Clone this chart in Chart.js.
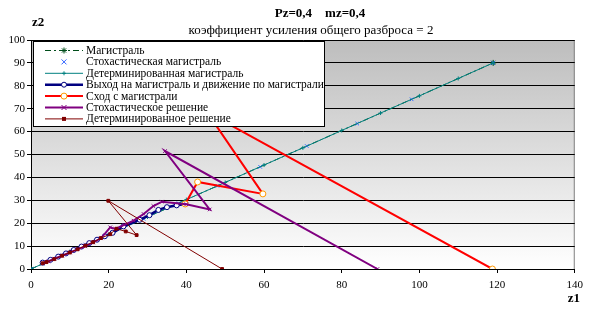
<!DOCTYPE html>
<html>
<head>
<meta charset="utf-8">
<script src="https://cdn.jsdelivr.net/npm/chart.js@4.4.0/dist/chart.umd.min.js"></script>
<style>
html, body { margin: 0; padding: 0; background: #fff; }
</style>
</head>
<body>
<canvas id="trajChart" width="589" height="312"></canvas>
<script>
// series names (legend order)
const seriesNames = [
    'Магистраль',
    'Стохастическая магистраль',
    'Детерминированная магистраль',
    'Выход на магистраль и движение по магистрали',
    'Сход с магистрали',
    'Стохастическое решение',
    'Детерминированное решение'
];

// z1 / z2 values
const magistralX = [0, 119];
const magistralY = [0, 90];
const stochMagX = [0, 3, 8, 14, 21, 29, 38, 48, 59, 71, 84, 98, 119];
const stochMagY = [0, 2.3, 6, 10.6, 15.9, 21.9, 28.7, 36.3, 44.6, 53.7, 63.5, 74.1, 90];
const detMagX = [0, 10, 20, 30, 40, 50, 60, 70, 80, 90, 100, 110, 119];
const detMagY = [0, 7.6, 15.1, 22.7, 30.3, 37.8, 45.4, 52.9, 60.5, 68.1, 75.6, 83.2, 90];
const exitX = [3, 5, 7, 9, 11, 13, 15, 17, 19, 21, 23.8, 28, 30.5, 32.8, 35, 37.5, 39.7];
const exitY = [2.8, 4, 5.4, 6.8, 8.3, 9.8, 11.3, 12.8, 14.3, 15.8, 18.6, 21.5, 23.5, 25.8, 27, 27.8, 28.4];
const leaveX = [39.7, 42.9, 59.7, 45.3, 118.8];
const leaveY = [28.4, 38, 32.8, 68.5, 0];
const stochSolX = [3, 4.5, 6, 8, 10, 12, 14, 16, 18, 20.4, 21.7, 24, 26.4, 29, 31.5, 33.7, 40, 46, 34.5, 89.2];
const stochSolY = [2.5, 3.3, 4.5, 5.8, 7.2, 8.6, 10, 11.6, 13.4, 18.2, 17.5, 19.3, 21.1, 24, 27.5, 29.4, 28.3, 26, 51.5, 0];
const detSolX = [3, 4, 6, 8, 10, 12, 14, 16, 18, 20.4, 22, 24.4, 27.2, 19.9, 49.2];
const detSolY = [2.5, 3, 4.3, 5.8, 7.2, 8.6, 10.2, 11.7, 13.5, 15.2, 17.6, 16.4, 14.8, 29.8, 0];

const xTicks = [0, 20, 40, 60, 80, 100, 120, 140];
const yTicks = [0, 10, 20, 30, 40, 50, 60, 70, 80, 90, 100];

const FONT = "'Liberation Serif', 'Times New Roman', serif";

function pts(xs, ys) {
    return xs.map((x, i) => ({ x: x, y: ys[i] }));
}

const styles = [
    { color: '#004d1a', width: 1, dash: [6, 3, 2, 3], point: 'star', radius: 3, fill: '#004d1a', line: true },
    { color: '#3366ff', width: 1, dash: [], point: 'crossRot', radius: 2.5, fill: '#3366ff', line: false },
    { color: '#008080', width: 1, dash: [], point: 'cross', radius: 2, fill: '#008080', line: true },
    { color: '#000080', width: 2.5, dash: [], point: 'circle', radius: 2.5, fill: '#ffffff', line: true, pointColor: '#000080' },
    { color: '#ff0000', width: 2, dash: [], point: 'circle', radius: 3, fill: '#ffffff', line: true, pointColor: '#ff9900' },
    { color: '#800080', width: 2, dash: [], point: 'crossRot', radius: 2.5, fill: '#800080', line: true },
    { color: '#800000', width: 1, dash: [], point: 'rect', radius: 2, fill: '#800000', line: true }
];

const seriesData = [
    pts(magistralX, magistralY),
    pts(stochMagX, stochMagY),
    pts(detMagX, detMagY),
    pts(exitX, exitY),
    pts(leaveX, leaveY),
    pts(stochSolX, stochSolY),
    pts(detSolX, detSolY)
];

const datasets = seriesNames.map((name, i) => {
    const s = styles[i];
    return {
        label: name,
        data: seriesData[i],
        showLine: s.line,
        borderColor: s.color,
        borderWidth: s.width,
        borderDash: s.dash,
        pointStyle: s.point,
        pointRadius: s.radius,
        pointBorderColor: s.pointColor || s.color,
        pointBackgroundColor: s.fill,
        pointBorderWidth: 1,
        tension: 0,
        order: 7 - i // later series on top, like the original
    };
});

// gray-to-white plot background + frame
const plotBackground = {
    id: 'plotBackground',
    beforeDraw(chart) {
        const { ctx, chartArea: a } = chart;
        const g = ctx.createLinearGradient(0, a.top, 0, a.bottom);
        g.addColorStop(0, '#bdbdbd');
        g.addColorStop(1, '#ffffff');
        ctx.save();
        ctx.fillStyle = g;
        ctx.fillRect(a.left, a.top, a.right - a.left, a.bottom - a.top);
        ctx.strokeStyle = '#808080';
        ctx.lineWidth = 1;
        ctx.strokeRect(a.left + 0.5, a.top + 0.5, a.right - a.left - 1, a.bottom - a.top);
        ctx.restore();
    }
};

function drawMarker(ctx, style, x, y, r) {
    ctx.beginPath();
    if (style === 'circle') {
        ctx.arc(x, y, r, 0, Math.PI * 2);
        ctx.fill();
        ctx.stroke();
    } else if (style === 'rect') {
        ctx.fillRect(x - r, y - r, 2 * r, 2 * r);
    } else if (style === 'cross') {
        ctx.moveTo(x - r, y); ctx.lineTo(x + r, y);
        ctx.moveTo(x, y - r); ctx.lineTo(x, y + r);
        ctx.stroke();
    } else if (style === 'crossRot') {
        ctx.moveTo(x - r, y - r); ctx.lineTo(x + r, y + r);
        ctx.moveTo(x + r, y - r); ctx.lineTo(x - r, y + r);
        ctx.stroke();
    } else if (style === 'star') {
        ctx.moveTo(x - r, y); ctx.lineTo(x + r, y);
        ctx.moveTo(x, y - r); ctx.lineTo(x, y + r);
        ctx.moveTo(x - r * 0.7, y - r * 0.7); ctx.lineTo(x + r * 0.7, y + r * 0.7);
        ctx.moveTo(x + r * 0.7, y - r * 0.7); ctx.lineTo(x - r * 0.7, y + r * 0.7);
        ctx.stroke();
    }
}

// legend box inside the plot, titles and axis names
const overlay = {
    id: 'overlay',
    afterDraw(chart) {
        const { ctx, chartArea: a } = chart;
        ctx.save();

        // legend
        const bx = a.left + 2, by = a.top + 1, bw = 291, bh = 85;
        ctx.fillStyle = '#ffffff';
        ctx.fillRect(bx, by, bw, bh);
        ctx.strokeStyle = '#000000';
        ctx.lineWidth = 1;
        ctx.strokeRect(bx + 0.5, by + 0.5, bw, bh);
        ctx.font = '11.5px ' + FONT;
        ctx.textBaseline = 'middle';
        ctx.textAlign = 'left';
        chart.data.datasets.forEach((ds, i) => {
            const s = styles[i];
            const y = by + 9.5 + i * 11.4;
            if (s.line) {
                ctx.strokeStyle = s.color;
                ctx.lineWidth = s.width;
                ctx.setLineDash(s.dash);
                ctx.beginPath();
                ctx.moveTo(bx + 12, y);
                ctx.lineTo(bx + 50, y);
                ctx.stroke();
                ctx.setLineDash([]);
            }
            ctx.strokeStyle = s.pointColor || s.color;
            ctx.fillStyle = s.fill;
            ctx.lineWidth = 1;
            drawMarker(ctx, s.point, bx + 31, y, s.radius);
            ctx.fillStyle = '#000000';
            ctx.fillText(ds.label, bx + 53, y + 0.5);
        });

        // titles
        ctx.textAlign = 'center';
        ctx.fillStyle = '#000000';
        ctx.font = 'bold 13px ' + FONT;
        ctx.fillText('Pz=0,4    mz=0,4', 320, 14);
        ctx.font = '13px ' + FONT;
        ctx.fillText('коэффициент усиления общего разброса = 2', 311, 31);

        // axis names
        ctx.font = 'bold 13px ' + FONT;
        ctx.textAlign = 'left';
        ctx.fillText('z2', 32, 23);
        ctx.textAlign = 'right';
        ctx.fillText('z1', 580, 299);
        ctx.restore();
    }
};

new Chart(document.getElementById('trajChart'), {
    type: 'scatter',
    data: { datasets: datasets },
    options: {
        responsive: false,
        animation: false,
        layout: { padding: { top: 40, right: 13, left: 0, bottom: 0 } },
        plugins: {
            legend: { display: false },
            tooltip: { enabled: false },
            title: { display: false }
        },
        scales: {
            x: {
                type: 'linear',
                min: 0,
                max: 140,
                afterBuildTicks: (axis) => { axis.ticks = xTicks.map(v => ({ value: v })); },
                afterFit: (axis) => { axis.height = 43; },
                grid: { display: true, drawOnChartArea: false, drawTicks: true, tickLength: 4, color: '#000000' },
                border: { color: '#000000', width: 1 },
                ticks: { color: '#000000', padding: 6, maxRotation: 0, font: { family: FONT, size: 11 } }
            },
            y: {
                type: 'linear',
                min: 0,
                max: 100,
                afterBuildTicks: (axis) => { axis.ticks = yTicks.map(v => ({ value: v })); },
                afterFit: (axis) => { axis.width = 31; },
                grid: { color: '#000000', lineWidth: 1, drawTicks: true, tickLength: 4 },
                border: { color: '#000000', width: 1 },
                ticks: { color: '#000000', padding: 2, font: { family: FONT, size: 11 } }
            }
        }
    },
    plugins: [plotBackground, overlay]
});
</script>
</body>
</html>
